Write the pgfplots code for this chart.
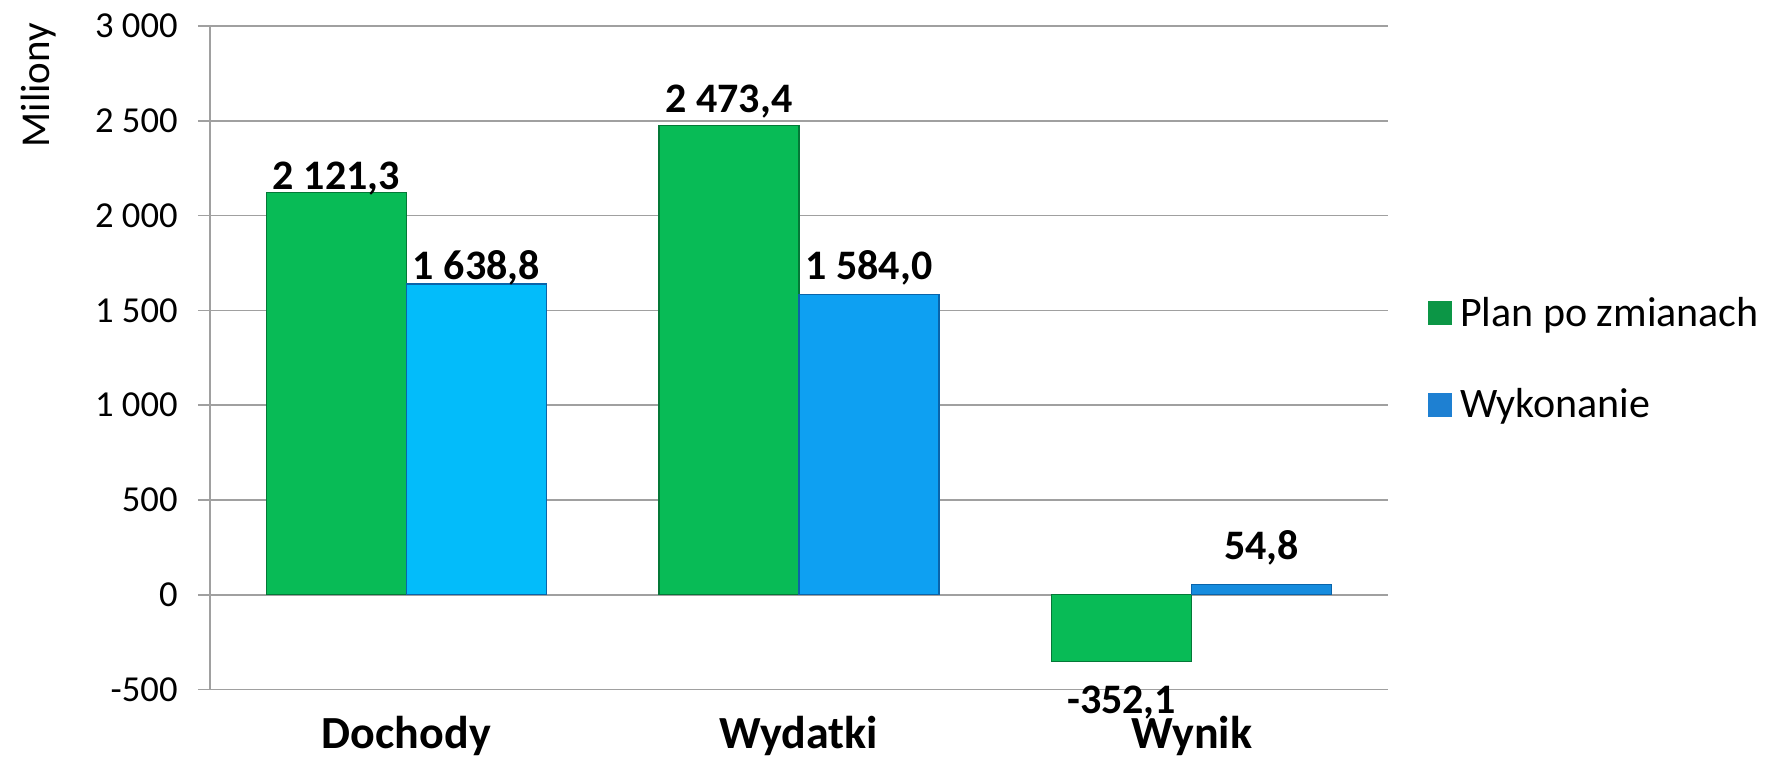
\documentclass[border=0pt]{standalone}
\usepackage{pgfplots}
\pgfplotsset{compat=1.18}
\usepackage{fontspec}
\setmainfont{Carlito}
\definecolor{grn}{RGB}{8,187,86}
\definecolor{grnE}{RGB}{4,120,55}
\definecolor{bluA}{RGB}{3,188,250}
\definecolor{bluB}{RGB}{14,160,242}
\definecolor{bluC}{RGB}{22,140,222}
\definecolor{bluE}{RGB}{10,100,170}
\definecolor{gridc}{RGB}{160,160,160}
\definecolor{legG}{RGB}{12,150,70}
\definecolor{legB}{RGB}{30,128,210}
\begin{document}
\begin{tikzpicture}
\path[use as bounding box] (-105pt,-35.5pt) rectangle (779pt,344.75pt);
\begin{axis}[
  scale only axis, width=589pt, height=331.75pt,
  ybar, bar width=70pt,
  xmin=-0.5, xmax=2.5, ymin=-500, ymax=3000,
  xtick={0,1,2}, xticklabels={Dochody,Wydatki,Wynik},
  ytick={-500,0,500,1000,1500,2000,2500,3000},
  axis y line*=left, axis x line*=bottom,
  x axis line style={draw=none},
  y axis line style={draw=gridc, line width=0.8pt},
  ymajorgrids, grid style={draw=gridc, line width=0.8pt},
  xtick style={draw=none},
  ytick style={draw=gridc, line width=0.8pt},
  tick align=outside, major tick length=6pt,
  /pgf/number format/assume math mode=true,
  /pgf/number format/1000 sep={\ },
  yticklabel style={font=\fontsize{18.3}{20}\selectfont, anchor=east, inner sep=0pt, xshift=-10pt},
  xticklabel style={font=\fontsize{23}{26}\selectfont\bfseries, anchor=base, inner sep=0pt, yshift=-23.5pt},
  ylabel={Miliony},
  ylabel style={at={(axis description cs:-0.1362,1.005)}, anchor=base east, inner sep=0pt, font=\fontsize{20.5}{24}\selectfont},
  point meta=y,
  nodes near coords={\pgfmathprintnumber[fixed,fixed zerofill,precision=1,use comma,1000 sep={\ }]{\pgfplotspointmeta}},
  every node near coord/.append style={font=\fontsize{21}{24}\selectfont\bfseries, inner sep=0pt},
  legend style={draw=none, fill=none, inner sep=0pt, at={(axis description cs:1,0.4985)}, anchor=west, xshift=20pt,
    font=\fontsize{21}{24}\selectfont, row sep=25.25pt,
    nodes={inner sep=0pt, text height=17pt, text depth=3.5pt},
    /tikz/every odd column/.append style={column sep=4pt}},
  legend cell align=left,
  clip=false,
]
\addlegendimage{legend image code/.code={\fill[legG] (0pt,-5.75pt) rectangle (11.5pt,5.75pt);}}
\addlegendentry{Plan po zmianach}
\addlegendimage{legend image code/.code={\fill[legB] (0pt,-5.75pt) rectangle (11.5pt,5.75pt);}}
\addlegendentry{Wykonanie}

\addplot[forget plot, fill=grn, draw=grnE, line width=0.6pt, bar shift=-35pt,
  nodes near coords style={anchor=base, yshift=1.5pt}] coordinates {(0,2121.3)};
\addplot[forget plot, fill=bluA, draw=bluE, line width=0.6pt, bar shift=35pt,
  nodes near coords style={anchor=base, yshift=2.3pt}] coordinates {(0,1638.8)};
\addplot[forget plot, fill=grn, draw=grnE, line width=0.6pt, bar shift=-35pt,
  nodes near coords style={anchor=base, yshift=6.7pt}] coordinates {(1,2473.4)};
\addplot[forget plot, fill=bluB, draw=bluE, line width=0.6pt, bar shift=35pt,
  nodes near coords style={anchor=base, yshift=7.5pt}] coordinates {(1,1584.0)};
\addplot[forget plot, fill=grn, draw=grnE, line width=0.6pt, bar shift=-35pt,
  nodes near coords style={anchor=base, yshift=-25.8pt}] coordinates {(2,-352.1)};
\addplot[forget plot, fill=bluC, draw=bluE, line width=0.6pt, bar shift=35pt,
  nodes near coords style={anchor=base, yshift=12.5pt}] coordinates {(2,54.8)};
\end{axis}
\end{tikzpicture}
\end{document}
